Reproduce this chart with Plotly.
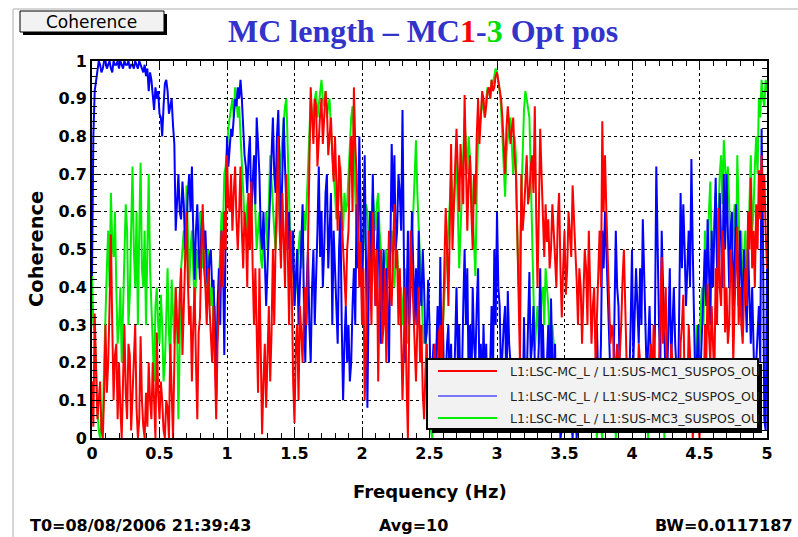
import plotly.graph_objects as go

# ---------------- data ----------------
# Coarse readings at 0.00, 0.02, ... 5.00 Hz and in-between readings at 0.01, 0.03, ... 4.99 Hz
f_step = 0.02
freq_main = [round(i * f_step, 2) for i in range(251)]
freq_mid = [round(i * f_step + 0.01, 2) for i in range(250)]

red_main = [  # L1:LSC-MC_L / L1:SUS-MC1_SUSPOS_OUT
    0.15, 0.33, 0.05, 0.15, 0.00,  0.30, 0.20, 0.54, 0.10, 0.25,
    0.20, 0.00, 0.30, 0.05, 0.22,  0.10, 0.30, 0.00, 0.27, 0.03,
    0.12, 0.20, 0.05, 0.12, 0.28,  0.05, 0.10, 0.00, 0.08, 0.25,
    0.00, 0.40, 0.25, 0.45, 0.35,  0.60, 0.30, 0.15, 0.40, 0.05,
    0.32, 0.62, 0.40, 0.45, 0.28,  0.35, 0.05, 0.35, 0.55, 0.60,
    0.75, 0.60, 0.55, 0.72, 0.50,  0.72, 0.45, 0.55, 0.65, 0.68,
    0.30, 0.25, 0.45, 0.01, 0.25,  0.20, 0.15, 0.50, 0.52, 0.80,
    0.45, 0.55, 0.70, 0.30, 0.40,  0.04, 0.30, 0.35, 0.20, 0.40,
    0.55, 0.93, 0.78, 0.88, 0.80,  0.90, 0.85, 0.88, 0.80, 0.75,
    0.80, 0.55, 0.70, 0.50, 0.35,  0.55, 0.80, 0.93, 0.70, 0.40,
    0.30, 0.10, 0.40, 0.45, 0.60,  0.35, 0.15, 0.50, 0.30, 0.20,
    0.55, 0.35, 0.62, 0.50, 0.45,  0.10, 0.40, 0.00, 0.55, 0.35,
    0.15, 0.40, 0.30, 0.05, 0.25,  0.20, 0.10, 0.25, 0.15, 0.30,
    0.30, 0.61, 0.35, 0.78, 0.65,  0.82, 0.60, 0.70, 0.91, 0.55,
    0.75, 0.50, 0.62, 0.90, 0.85,  0.90, 0.88, 0.93, 0.95, 0.93,
    0.97, 0.93, 0.85, 0.70, 0.88,  0.78, 0.85, 0.70, 0.34, 0.70,
    0.60, 0.75, 0.65, 0.75, 0.88,  0.40, 0.82, 0.55, 0.62, 0.58,
    0.50, 0.55, 0.40, 0.65, 0.32,  0.55, 0.45, 0.55, 0.67, 0.50,
    0.30, 0.40, 0.35, 0.45, 0.55,  0.25, 0.40, 0.30, 0.55, 0.84,
    0.75, 0.50, 0.25, 0.27, 0.20,  0.15, 0.30, 0.50, 0.20, 0.10,
    0.05, 0.15, 0.10, 0.20, 0.05,  0.15, 0.10, 0.25, 0.30, 0.10,
    0.20, 0.48, 0.30, 0.15, 0.10,  0.20, 0.05, 0.15, 0.25, 0.38,
    0.20, 0.30, 0.15, 0.05, 0.10,  0.00, 0.15, 0.30, 0.41, 0.20,
    0.25, 0.45, 0.61, 0.35, 0.50,  0.40, 0.30, 0.45, 0.35, 0.56,
    0.40, 0.25, 0.45, 0.60, 0.69,  0.55, 0.62, 0.71, 0.75, 0.70,
    0.45,
]
red_mid = [
    0.03, 0.20, 0.10, 0.02, 0.12,  0.12, 0.35, 0.30, 0.22, 0.05,
    0.08, 0.15, 0.12, 0.25, 0.02,  0.20, 0.08, 0.05, 0.10, 0.00,
    0.03, 0.10, 0.20, 0.00, 0.12,  0.15, 0.02, 0.10, 0.00, 0.10,
    0.20, 0.30, 0.38, 0.22, 0.45,  0.42, 0.35, 0.30, 0.20, 0.28,
    0.50, 0.45, 0.30, 0.35, 0.20,  0.20, 0.25, 0.45, 0.40, 0.50,
    0.62, 0.70, 0.65, 0.58, 0.60,  0.55, 0.60, 0.40, 0.50, 0.45,
    0.45, 0.12, 0.20, 0.15, 0.08,  0.35, 0.28, 0.30, 0.68, 0.55,
    0.65, 0.40, 0.50, 0.55, 0.15,  0.25, 0.10, 0.28, 0.35, 0.30,
    0.75, 0.85, 0.90, 0.72, 0.86,  0.78, 0.92, 0.75, 0.85, 0.68,
    0.65, 0.75, 0.58, 0.42, 0.50,  0.72, 0.60, 0.78, 0.55, 0.52,
    0.45, 0.25, 0.55, 0.30, 0.48,  0.50, 0.38, 0.25, 0.45, 0.40,
    0.40, 0.50, 0.45, 0.30, 0.28,  0.25, 0.15, 0.30, 0.45, 0.25,
    0.30, 0.20, 0.12, 0.18, 0.08,  0.05, 0.20, 0.08, 0.28, 0.15,
    0.45, 0.50, 0.55, 0.50, 0.72,  0.68, 0.78, 0.62, 0.75, 0.68,
    0.60, 0.70, 0.80, 0.78, 0.92,  0.85, 0.92, 0.90, 0.92, 0.96,
    0.95, 0.90, 0.78, 0.82, 0.83,  0.82, 0.75, 0.55, 0.20, 0.55,
    0.70, 0.62, 0.72, 0.65, 0.60,  0.60, 0.70, 0.48, 0.52, 0.45,
    0.62, 0.45, 0.58, 0.45, 0.45,  0.38, 0.60, 0.48, 0.60, 0.42,
    0.45, 0.25, 0.50, 0.30, 0.40,  0.35, 0.20, 0.45, 0.40, 0.60,
    0.60, 0.35, 0.30, 0.15, 0.25,  0.22, 0.42, 0.35, 0.05, 0.18,
    0.10, 0.02, 0.25, 0.12, 0.08,  0.05, 0.20, 0.12, 0.18, 0.02,
    0.35, 0.25, 0.40, 0.05, 0.25,  0.10, 0.20, 0.02, 0.30, 0.12,
    0.10, 0.22, 0.00, 0.18, 0.05,  0.08, 0.05, 0.20, 0.28, 0.35,
    0.15, 0.30, 0.40, 0.55, 0.28,  0.25, 0.50, 0.20, 0.48, 0.30,
    0.30, 0.38, 0.35, 0.50, 0.45,  0.40, 0.50, 0.58, 0.60, 0.55,
]

blue_main = [  # L1:LSC-MC_L / L1:SUS-MC2_SUSPOS_OUT
    0.43, 0.92, 0.97, 0.99, 0.98,  1.00, 0.99, 0.98, 1.00, 0.99,
    0.98, 0.99, 1.00, 0.99, 0.98,  0.99, 1.00, 0.98, 0.99, 0.97,
    0.96, 0.92, 0.95, 0.87, 0.90,  0.86, 0.80, 0.94, 0.92, 0.88,
    0.83, 0.55, 0.70, 0.58, 0.62,  0.55, 0.70, 0.72, 0.42, 0.62,
    0.42, 0.60, 0.55, 0.38, 0.50,  0.42, 0.10, 0.45, 0.55, 0.22,
    0.80, 0.78, 0.80, 0.90, 0.93,  0.95, 0.82, 0.72, 0.75, 0.60,
    0.75, 0.85, 0.70, 0.50, 0.45,  0.45, 0.62, 0.85, 0.65, 0.87,
    0.55, 0.85, 0.60, 0.60, 0.45,  0.35, 0.50, 0.40, 0.62, 0.20,
    0.50, 0.20, 0.50, 0.40, 0.72,  0.60, 0.50, 0.70, 0.55, 0.30,
    0.45, 0.25, 0.60, 0.10, 0.35,  0.30, 0.20, 0.45, 0.62, 0.80,
    0.35, 0.75, 0.08, 0.60, 0.70,  0.35, 0.60, 0.25, 0.50, 0.45,
    0.20, 0.78, 0.75, 0.55, 0.65,  0.87, 0.20, 0.55, 0.40, 0.45,
    0.45, 0.55, 0.35, 0.40, 0.28,  0.30, 0.18, 0.10, 0.35, 0.48,
    0.30, 0.15, 0.30, 0.25, 0.10,  0.40, 0.30, 0.15, 0.50, 0.45,
    0.30, 0.40, 0.20, 0.45, 0.25,  0.30, 0.25, 0.10, 0.35, 0.50,
    0.60, 0.35, 0.25, 0.35, 0.39,  0.20, 0.10, 0.15, 0.05, 0.20,
    0.32, 0.15, 0.44, 0.25, 0.20,  0.15, 0.45, 0.30, 0.10, 0.30,
    0.37, 0.15, 0.05, 0.10, 0.02,  0.10, 0.05, 0.15, 0.00, 0.10,
    0.05, 0.12, 0.20, 0.10, 0.05,  0.15, 0.05, 0.30, 0.10, 0.55,
    0.60, 0.40, 0.15, 0.10, 0.55,  0.35, 0.20, 0.10, 0.05, 0.15,
    0.50, 0.30, 0.35, 0.45, 0.58,  0.35, 0.25, 0.20, 0.10, 0.72,
    0.30, 0.55, 0.30, 0.15, 0.45,  0.30, 0.25, 0.10, 0.65, 0.62,
    0.35, 0.55, 0.74, 0.30, 0.20,  0.10, 0.25, 0.50, 0.58, 0.30,
    0.40, 0.69, 0.50, 0.55, 0.70,  0.70, 0.40, 0.60, 0.45, 0.45,
    0.55, 0.30, 0.40, 0.50, 0.25,  0.25, 0.20, 0.35, 0.82, 0.05,
    0.45,
]
blue_mid = [
    0.80, 0.95, 1.00, 0.97, 1.00,  0.98, 1.00, 0.97, 0.99, 1.00,
    1.00, 0.98, 0.99, 1.00, 0.99,  0.98, 0.99, 1.00, 0.98, 0.99,
    0.98, 0.97, 0.91, 0.93, 0.92,  0.85, 0.88, 0.95, 0.86, 0.90,
    0.78, 0.62, 0.60, 0.68, 0.50,  0.65, 0.60, 0.55, 0.55, 0.50,
    0.55, 0.50, 0.45, 0.48, 0.40,  0.30, 0.35, 0.30, 0.48, 0.55,
    0.72, 0.82, 0.85, 0.88, 0.90,  0.90, 0.75, 0.65, 0.80, 0.70,
    0.62, 0.78, 0.55, 0.60, 0.35,  0.55, 0.75, 0.70, 0.80, 0.70,
    0.70, 0.72, 0.50, 0.40, 0.55,  0.45, 0.30, 0.55, 0.35, 0.40,
    0.30, 0.40, 0.30, 0.55, 0.48,  0.40, 0.65, 0.45, 0.65, 0.55,
    0.35, 0.50, 0.30, 0.25, 0.20,  0.15, 0.35, 0.30, 0.45, 0.60,
    0.55, 0.45, 0.40, 0.45, 0.50,  0.50, 0.40, 0.35, 0.30, 0.35,
    0.50, 0.60, 0.50, 0.70, 0.55,  0.50, 0.35, 0.30, 0.60, 0.30,
    0.30, 0.40, 0.50, 0.25, 0.42,  0.10, 0.25, 0.20, 0.15, 0.20,
    0.10, 0.25, 0.12, 0.05, 0.25,  0.20, 0.10, 0.35, 0.30, 0.15,
    0.10, 0.25, 0.35, 0.15, 0.10,  0.15, 0.05, 0.20, 0.15, 0.30,
    0.40, 0.15, 0.30, 0.10, 0.25,  0.05, 0.12, 0.02, 0.10, 0.05,
    0.10, 0.30, 0.20, 0.35, 0.05,  0.25, 0.20, 0.15, 0.22, 0.10,
    0.20, 0.25, 0.12, 0.00, 0.08,  0.02, 0.12, 0.05, 0.08, 0.00,
    0.10, 0.03, 0.12, 0.02, 0.10,  0.02, 0.18, 0.15, 0.25, 0.45,
    0.50, 0.25, 0.05, 0.30, 0.40,  0.15, 0.05, 0.20, 0.10, 0.30,
    0.20, 0.45, 0.25, 0.30, 0.45,  0.15, 0.35, 0.05, 0.30, 0.45,
    0.20, 0.40, 0.10, 0.30, 0.20,  0.40, 0.15, 0.35, 0.45, 0.50,
    0.45, 0.40, 0.50, 0.12, 0.30,  0.20, 0.40, 0.35, 0.45, 0.55,
    0.55, 0.45, 0.65, 0.40, 0.50,  0.50, 0.55, 0.35, 0.62, 0.35,
    0.40, 0.50, 0.28, 0.35, 0.40,  0.10, 0.30, 0.20, 0.55, 0.02,
]

green_main = [  # L1:LSC-MC_L / L1:SUS-MC3_SUSPOS_OUT
    0.43, 0.28, 0.08, 0.00, 0.03,  0.35, 0.55, 0.65, 0.48, 0.40,
    0.30, 0.20, 0.45, 0.55, 0.38,  0.72, 0.40, 0.30, 0.73, 0.40,
    0.30, 0.70, 0.35, 0.15, 0.40,  0.25, 0.30, 0.20, 0.45, 0.20,
    0.35, 0.40, 0.05, 0.45, 0.55,  0.67, 0.40, 0.55, 0.35, 0.50,
    0.60, 0.45, 0.40, 0.50, 0.35,  0.30, 0.15, 0.40, 0.60, 0.70,
    0.78, 0.85, 0.90, 0.93, 0.85,  0.80, 0.62, 0.55, 0.65, 0.60,
    0.72, 0.50, 0.60, 0.45, 0.55,  0.50, 0.75, 0.60, 0.50, 0.65,
    0.75, 0.85, 0.90, 0.60, 0.55,  0.35, 0.45, 0.55, 0.50, 0.55,
    0.70, 0.90, 0.85, 0.92, 0.88,  0.95, 0.88, 0.85, 0.90, 0.75,
    0.65, 0.60, 0.72, 0.55, 0.60,  0.70, 0.85, 0.80, 0.55, 0.50,
    0.45, 0.55, 0.60, 0.50, 0.65,  0.55, 0.65, 0.50, 0.40, 0.50,
    0.45, 0.55, 0.40, 0.50, 0.35,  0.30, 0.45, 0.25, 0.50, 0.60,
    0.79, 0.55, 0.40, 0.25, 0.20,  0.05, 0.00, 0.10, 0.15, 0.25,
    0.30, 0.45, 0.55, 0.70, 0.60,  0.75, 0.45, 0.65, 0.85, 0.70,
    0.75, 0.60, 0.43, 0.80, 0.85,  0.88, 0.90, 0.92, 0.95, 0.96,
    0.97, 0.92, 0.80, 0.64, 0.80,  0.85, 0.70, 0.75, 0.40, 0.60,
    0.87, 0.90, 0.85, 0.55, 0.23,  0.35, 0.30, 0.40, 0.45, 0.35,
    0.20, 0.25, 0.15, 0.10, 0.05,  0.10, 0.05, 0.15, 0.10, 0.05,
    0.12, 0.05, 0.15, 0.08, 0.10,  0.05, 0.15, 0.00, 0.10, 0.00,
    0.12, 0.20, 0.10, 0.05, 0.00,  0.10, 0.15, 0.05, 0.12, 0.08,
    0.10, 0.05, 0.15, 0.10, 0.05,  0.12, 0.00, 0.10, 0.15, 0.05,
    0.10, 0.20, 0.00, 0.10, 0.15,  0.05, 0.12, 0.20, 0.08, 0.15,
    0.10, 0.05, 0.15, 0.20, 0.30,  0.25, 0.40, 0.55, 0.45, 0.68,
    0.50, 0.65, 0.60, 0.75, 0.79,  0.65, 0.60, 0.50, 0.62, 0.75,
    0.45, 0.35, 0.55, 0.45, 0.75,  0.60, 0.80, 0.90, 0.95, 0.88,
    0.92,
]
green_mid = [
    0.30, 0.15, 0.02, 0.05, 0.20,  0.45, 0.40, 0.52, 0.60, 0.25,
    0.40, 0.35, 0.62, 0.30, 0.55,  0.50, 0.60, 0.55, 0.45, 0.55,
    0.50, 0.45, 0.25, 0.35, 0.30,  0.38, 0.15, 0.32, 0.28, 0.42,
    0.25, 0.30, 0.30, 0.50, 0.45,  0.55, 0.50, 0.45, 0.42, 0.45,
    0.50, 0.55, 0.45, 0.40, 0.42,  0.35, 0.30, 0.50, 0.55, 0.72,
    0.82, 0.88, 0.85, 0.90, 0.88,  0.70, 0.58, 0.62, 0.50, 0.68,
    0.60, 0.55, 0.48, 0.52, 0.60,  0.62, 0.68, 0.55, 0.58, 0.70,
    0.80, 0.88, 0.75, 0.50, 0.45,  0.40, 0.50, 0.45, 0.60, 0.62,
    0.82, 0.86, 0.90, 0.85, 0.92,  0.90, 0.92, 0.88, 0.82, 0.70,
    0.58, 0.68, 0.62, 0.65, 0.62,  0.78, 0.88, 0.65, 0.60, 0.48,
    0.50, 0.62, 0.52, 0.58, 0.60,  0.62, 0.55, 0.45, 0.48, 0.42,
    0.50, 0.45, 0.48, 0.42, 0.40,  0.38, 0.35, 0.40, 0.55, 0.70,
    0.65, 0.50, 0.30, 0.30, 0.10,  0.02, 0.05, 0.08, 0.20, 0.20,
    0.40, 0.50, 0.62, 0.65, 0.68,  0.60, 0.55, 0.75, 0.78, 0.80,
    0.68, 0.50, 0.65, 0.82, 0.90,  0.85, 0.93, 0.90, 0.94, 0.98,
    0.95, 0.88, 0.72, 0.75, 0.84,  0.78, 0.80, 0.55, 0.50, 0.75,
    0.92, 0.88, 0.70, 0.40, 0.30,  0.25, 0.38, 0.30, 0.40, 0.25,
    0.30, 0.10, 0.20, 0.02, 0.12,  0.02, 0.12, 0.05, 0.15, 0.08,
    0.02, 0.10, 0.05, 0.15, 0.02,  0.10, 0.05, 0.08, 0.02, 0.08,
    0.15, 0.08, 0.02, 0.12, 0.05,  0.02, 0.10, 0.15, 0.03, 0.12,
    0.02, 0.12, 0.05, 0.15, 0.10,  0.05, 0.08, 0.02, 0.10, 0.15,
    0.05, 0.08, 0.12, 0.02, 0.08,  0.10, 0.05, 0.12, 0.18, 0.05,
    0.02, 0.12, 0.08, 0.15, 0.20,  0.35, 0.30, 0.42, 0.60, 0.50,
    0.58, 0.45, 0.70, 0.62, 0.70,  0.72, 0.52, 0.58, 0.45, 0.60,
    0.55, 0.48, 0.40, 0.62, 0.55,  0.72, 0.70, 0.85, 0.90, 0.95,
]

series_names = [
    "L1:LSC-MC_L / L1:SUS-MC1_SUSPOS_OU",
    "L1:LSC-MC_L / L1:SUS-MC2_SUSPOS_OU",
    "L1:LSC-MC_L / L1:SUS-MC3_SUSPOS_OU",
]
x_ticks = [0, 0.5, 1, 1.5, 2, 2.5, 3, 3.5, 4, 4.5, 5]
y_ticks = [0, 0.1, 0.2, 0.3, 0.4, 0.5, 0.6, 0.7, 0.8, 0.9, 1]

RED, BLUE, GREEN = "#ff0000", "#0000ff", "#00ee00"
SANS = "DejaVu Sans"


def merge(main, mid):
    xs, ys = [], []
    for i, v in enumerate(main):
        xs.append(freq_main[i])
        ys.append(v)
        if i < len(mid):
            xs.append(freq_mid[i])
            ys.append(mid[i])
    return xs, ys


# ---------------- geometry helpers (pixel -> paper) ----------------
W, H = 798, 537
L, R, T, B = 92, 767, 61, 438


def px(x):
    return (x - L) / (R - L)


def py(y):
    return (B - y) / (B - T)


fig = go.Figure()
for main, mid, col in [(green_main, green_mid, GREEN), (blue_main, blue_mid, BLUE), (red_main, red_mid, RED)]:
    xs, ys = merge(main, mid)
    fig.add_trace(go.Scatter(x=xs, y=ys, mode="lines",
                             line=dict(color=col, width=2),
                             showlegend=False, hoverinfo="skip"))

tickfont = dict(family=SANS, size=16, color="black", weight="bold")
axis_common = dict(
    showline=True, linecolor="black", linewidth=2, mirror="allticks",
    ticks="inside", tickcolor="black", tickwidth=1,
    showgrid=True, gridcolor="black", gridwidth=1, griddash="3px,3px",
    zeroline=False, tickfont=tickfont,
)
fig.update_xaxes(range=[0, 5], tickvals=x_ticks, ticklen=9,
                 minor=dict(dtick=0.1, ticklen=5, ticks="inside", tickcolor="black", showgrid=False),
                 **axis_common)
fig.update_yaxes(range=[0, 1], tickvals=y_ticks, ticklen=9,
                 minor=dict(dtick=0.02, ticklen=5, ticks="inside", tickcolor="black", showgrid=False),
                 **axis_common)

shapes = []
# window frame lines
shapes.append(dict(type="line", xref="paper", yref="paper", x0=px(13), x1=px(13), y0=py(537), y1=py(9),
                   line=dict(color="#d6d6d6", width=2)))
shapes.append(dict(type="line", xref="paper", yref="paper", x0=px(13), x1=px(798), y0=py(9), y1=py(9),
                   line=dict(color="#d6d6d6", width=2)))
# "Coherence" button with shadow
shapes.append(dict(type="rect", xref="paper", yref="paper", x0=px(23), x1=px(167), y0=py(35), y1=py(14),
                   fillcolor="black", line=dict(width=0)))
shapes.append(dict(type="rect", xref="paper", yref="paper", x0=px(20), x1=px(164), y0=py(32), y1=py(11),
                   fillcolor="#f2f2f2", line=dict(color="black", width=1)))
# legend box with shadow
shapes.append(dict(type="rect", xref="paper", yref="paper", x0=px(432), x1=px(762), y0=py(433), y1=py(364),
                   fillcolor="black", line=dict(width=0)))
shapes.append(dict(type="rect", xref="paper", yref="paper", x0=px(427), x1=px(758), y0=py(429), y1=py(359),
                   fillcolor="#f2f2f2", line=dict(color="black", width=2)))
leg_y = [371, 396, 418]
leg_w = [2, 1, 2]
for yy, col, lw in zip(leg_y, [RED, BLUE, GREEN], leg_w):
    shapes.append(dict(type="line", xref="paper", yref="paper", x0=px(438), x1=px(497), y0=py(yy), y1=py(yy),
                       line=dict(color=col, width=lw)))

ann = []


def add_text(text, x, y, size, family=SANS, color="black", xanchor="center", angle=0):
    ann.append(dict(text=text, x=px(x), y=py(y), xref="paper", yref="paper", showarrow=False,
                    xanchor=xanchor, yanchor="middle", textangle=angle,
                    font=dict(family=family, size=size, color=color)))


add_text("Coherence", 91, 22, 17)
add_text("<b>MC length \u2013 MC<span style='color:#ff0000'>1</span>-"
         "<span style='color:#00dd00'>3</span> Opt pos</b>",
         423, 31, 32, family="Liberation Serif, Times New Roman", color="#3333cc")
add_text("<b>Coherence</b>", 36, 249, 19.5, angle=-90)
add_text("<b>Frequency (Hz)</b>", 430, 491, 18)
add_text("<b>T0=08/08/2006 21:39:43</b>", 28, 525, 16, xanchor="left")
add_text("<b>Avg=10</b>", 377, 525, 16, xanchor="left")
add_text("<b>BW=0.0117187</b>", 653, 525, 16, xanchor="left")
for yy, name in zip(leg_y, series_names):
    add_text(name, 508, yy, 12.5, color="#222222", xanchor="left")

fig.update_layout(
    width=W, height=H, margin=dict(l=L, r=W - R, t=T, b=H - B),
    paper_bgcolor="white", plot_bgcolor="white",
    shapes=shapes, annotations=ann, showlegend=False,
)
fig.write_html("out.html")
